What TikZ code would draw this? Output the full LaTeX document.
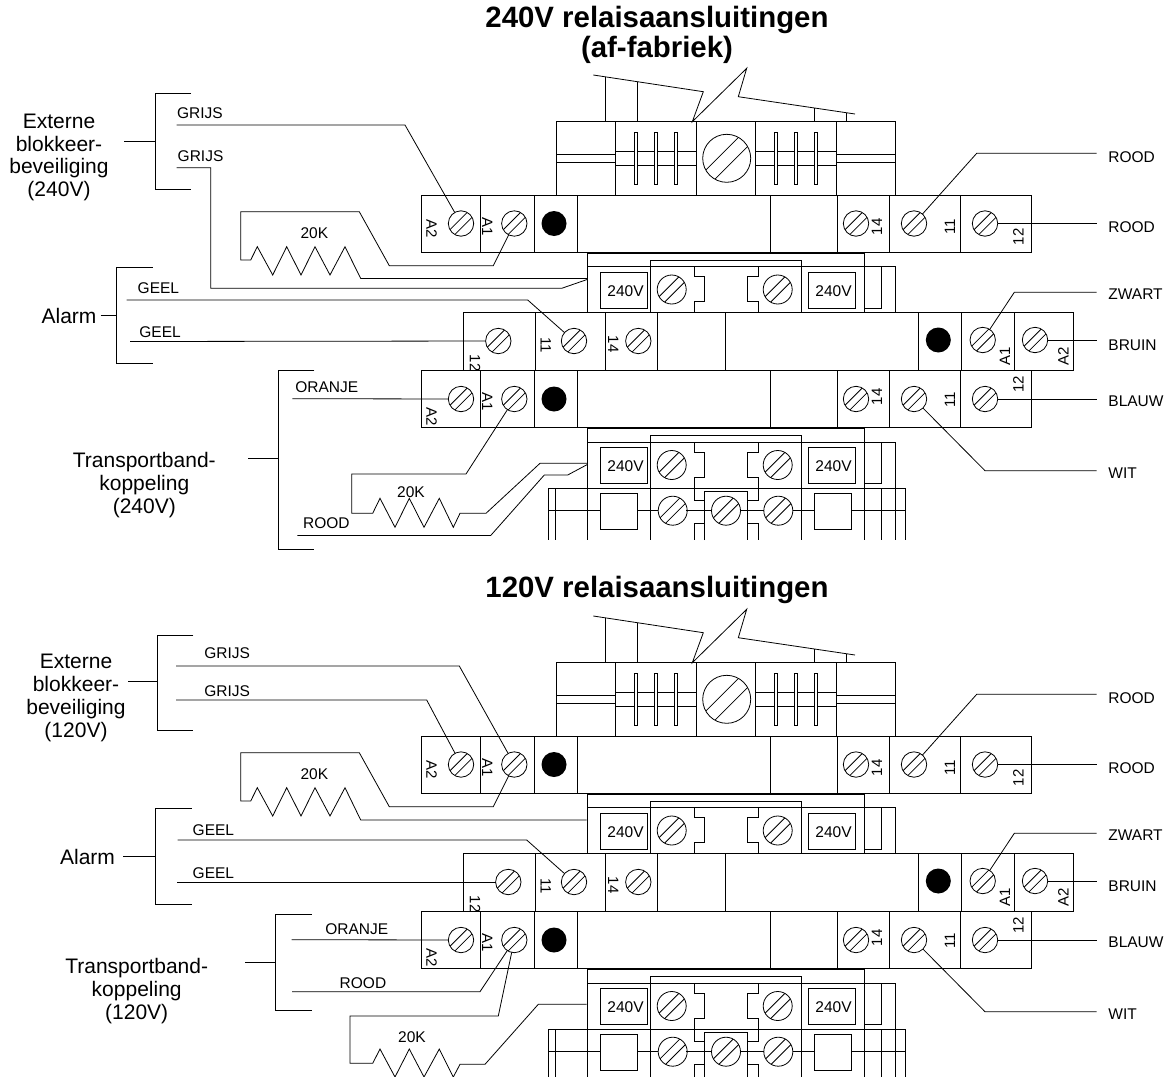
\documentclass[tikz,border=0pt]{standalone}
\usepackage{fontspec}
\setmainfont{Liberation Sans}
\newcommand\scrw[4]{%
  \coordinate (#1) at (#2,#3);
  \draw (#1) circle (#4pt);
  \begin{scope}
    \clip (#1) circle (#4pt);
    \draw ({#2-#4},{#3+#4+0.38*#4}) -- ({#2+#4},{#3-#4+0.38*#4})
          ({#2-#4},{#3+#4-0.38*#4}) -- ({#2+#4},{#3-#4-0.38*#4});
  \end{scope}}
\newcommand\modV[1]{%
  \draw (587.7,253.3) rectangle (864.3,312.7);
  \draw (587.7,266.7) -- (895.7,266.7) -- (895.7,312.7) -- (864.3,312.7);
  \draw (881.7,266.7) -- (881.7,308.3) -- (864.3,308.3);
  \draw (650.7,312.7) -- (650.7,260) -- (801.7,260) -- (801.7,312.7);
  \draw (694,266.7) -- (694,276.7) -- (704.3,276.7) -- (704.3,301.7) -- (694,301.7) -- (694,312.7);
  \draw (758.3,266.7) -- (758.3,276.7) -- (747.7,276.7) -- (747.7,301.7) -- (758.3,301.7) -- (758.3,312.7);
  \draw (600,272.3) rectangle (647.3,308.3) (808.3,272.3) rectangle (855.7,308.3);
  \node[vt] (#1l) at (625.5,290.8) {240V};
  \node[vt] (#1r) at (833.5,290.8) {240V};
  \scrw{#1sl}{671.7}{289.5}{14.5}
  \scrw{#1sr}{777.7}{289.5}{14.5}}
\newcommand\relayassembly[2]{%
  \draw (593.3,75) -- (703.3,91.7) -- (692.3,121.7) -- (746.7,68.3) -- (738.3,96.7) -- (855,114);
  \draw (605,76.8) -- (605,121.7) (637.7,81.7) -- (637.7,121.7)
        (814.3,107.9) -- (814.3,121.7) (846.7,112.7) -- (846.7,121.7);
  \draw (556.7,121.7) rectangle (895.7,195);
  \foreach \xx in {615,696.7,755,836.7} {\draw (\xx,121.7) -- (\xx,195);}
  \draw (556.7,154.3) -- (615,154.3) (556.7,162.7) -- (615,162.7)
        (836.7,154.3) -- (895.7,154.3) (836.7,162.7) -- (895.7,162.7)
        (615,151.7) -- (696.7,151.7) (615,165.3) -- (696.7,165.3)
        (755,151.7) -- (836.7,151.7) (755,165.3) -- (836.7,165.3);
  \foreach \xx in {636,656,676,775.7,795.7,816}
    {\draw[fill=white] (\xx-1.8,132.7) rectangle (\xx+1.8,184.3);}
  \scrw{#1big}{726.7}{158.3}{24}
  % row 1
  \draw (421.7,195) rectangle (1031.7,252.5);
  \foreach \xx in {480.7,534,577.7,770,837.5,889.5,960.7} {\draw (\xx,195) -- (\xx,252.5);}
  \scrw{#1aA2}{461}{223.5}{12.7}
  \scrw{#1aA1}{514.3}{223.5}{12.7}
  \fill (554,223.5) circle (12.5pt);
  \scrw{#1a14}{856}{223.5}{12.7}
  \scrw{#1a11}{914}{223.5}{12.7}
  \scrw{#1a12}{985}{223.5}{12.7}
  \node[tll] (#1aA2t) at (431.7,229) {A2};
  \node[tll] (#1aA1t) at (487.3,226.7) {A1};
  \node[tlr] (#1a14t) at (877,226.7) {14};
  \node[tlr] (#1a11t) at (950,226.7) {11};
  \node[tlr] (#1a12t) at (1018.3,236.7) {12};
  % module 2
  \modV{#1m}
  % row 2
  \draw (463.3,312.7) rectangle (1073.3,370);
  \foreach \xx in {535,605.7,657.3,725,918.3,961.7,1014.3} {\draw (\xx,312.7) -- (\xx,370);}
  \scrw{#1b12}{#2}{341}{12.7}
  \scrw{#1b11}{574}{341}{12.7}
  \scrw{#1b14}{638.3}{341}{12.7}
  \fill (938.3,340) circle (12.5pt);
  \scrw{#1bA1}{982.7}{340}{12.7}
  \scrw{#1bA2}{1035}{340}{12.7}
  \node[tll] (#1b12t) at (475,363) {12};
  \node[tll] (#1b11t) at (545.7,345) {11};
  \node[tll] (#1b14t) at (613.3,344) {14};
  \node[tlr] (#1bA1t) at (1005,356.7) {A1};
  \node[tlr] (#1bA2t) at (1063.3,356.7) {A2};
  % row 3
  \draw (421.7,370) rectangle (1031.7,427.7);
  \foreach \xx in {480.7,534,577.7,770,837.5,889.5,960.7} {\draw (\xx,370) -- (\xx,427.7);}
  \scrw{#1cA2}{461}{399}{12.7}
  \scrw{#1cA1}{514.3}{399}{12.7}
  \fill (554,399) circle (12.5pt);
  \scrw{#1c14}{856}{399}{12.7}
  \scrw{#1c11}{914}{399}{12.7}
  \scrw{#1c12}{985}{399}{12.7}
  \node[tll] (#1cA2t) at (431.7,416.7) {A2};
  \node[tll] (#1cA1t) at (487.3,401.7) {A1};
  \node[tlr] (#1c14t) at (877,396.7) {14};
  \node[tlr] (#1c11t) at (950,400) {11};
  \node[tlr] (#1c12t) at (1018.3,384) {12};
  % module 4
  \begin{scope}[shift={(0,175.5)}]\modV{#1n}\end{scope}
  % socket row
  \draw (548.3,488.3) -- (905,488.3);
  \foreach \xx in {548.3,555,587.7,650.7,801.7,864.3,881.7,895.7,905} {\draw (\xx,488.3) -- (\xx,540);}
  \draw (548.3,510.7) -- (600,510.7) (637.7,510.7) -- (658.2,510.7)
        (686.2,510.7) -- (711.5,510.7) (740.5,510.7) -- (763.8,510.7)
        (792.8,510.7) -- (814.3,510.7) (851.7,510.7) -- (905,510.7);
  \draw (600,493.3) rectangle (637.7,529) (814.3,493.3) rectangle (851.7,529);
  \draw (694,488.3) -- (694,500) -- (704.3,500)
        (704.3,540) -- (704.3,491.7) -- (747.7,491.7) -- (747.7,540)
        (704.3,523.3) -- (694,523.3) -- (694,540)
        (758.3,488.3) -- (758.3,500) -- (747.7,500)
        (747.7,523.3) -- (758.3,523.3) -- (758.3,540);
  \scrw{#1s1}{672.7}{510.7}{14.5}
  \scrw{#1s2}{726}{510.7}{14.5}
  \scrw{#1s3}{778.3}{510.7}{14.5}
  % right wires
  \draw[shorten <=12.7pt] (#1a11) -- (976.7,153.3) -- (1096.7,153.3);
  \draw[shorten <=12.7pt] (#1a12) -- (1096.7,223.5);
  \draw[shorten <=12.7pt] (#1bA1) -- (1014.3,292.3) -- (1096.7,292.3);
  \draw[shorten <=12.7pt] (#1bA2) -- (1096.7,340);
  \draw[shorten <=12.7pt] (#1c12) -- (1096.7,399);
  \draw[shorten <=12.7pt] (#1c11) -- (985,470.7) -- (1096.7,470.7);
  \node[wl] (#1w1) at (1108,156.7) {ROOD};
  \node[wl] (#1w2) at (1108,226.7) {ROOD};
  \node[wl] (#1w3) at (1108,294) {ZWART};
  \node[wl] (#1w4) at (1108,345) {BRUIN};
  \node[wl] (#1w5) at (1108,401.7) {BLAUW};
  \node[wl] (#1w6) at (1108,473.3) {WIT};
}
\begin{document}
\begin{tikzpicture}[x=1pt,y=-1pt,line width=0.8pt,
  font=\fontsize{15.5}{17}\selectfont,
  wl/.style={inner sep=0pt,anchor=west},
  vt/.style={inner sep=0pt},
  tl/.style={font=\fontsize{15}{15}\selectfont,inner sep=0pt},
  tll/.style={tl,rotate=-90},
  tlr/.style={tl,rotate=90},
  grp/.style={font=\fontsize{21}{22.8}\selectfont,align=center,inner sep=0pt},
  ttl/.style={font=\fontsize{29.4}{30}\selectfont\bfseries,inner sep=0pt}]
\useasboundingbox (0,0) rectangle (1169,1076);
\clip (0,0) rectangle (1169,1076);
% titles
\node[ttl] (t1) at (657,20) {240V relaisaansluitingen};
\node[ttl] (t2) at (657,50) {(af-fabriek)};
\node[ttl] (t3) at (657,590) {120V relaisaansluitingen};
% relay assemblies
\relayassembly{T}{498.3}
\begin{scope}[shift={(0,541)}]\relayassembly{B}{508.3}\end{scope}
% ---------- top left wiring (240V)
\node[grp] (ext1) at (59,157.5) {Externe\\blokkeer-\\beveiliging\\(240V)};
\draw (191,93.3) -- (155,93.3) -- (155,189.3) -- (191,189.3) (124.3,141) -- (155,141);
\node[wl] (g1) at (176.7,112.7) {GRIJS};
\draw[shorten >=12.7pt] (176.7,125) -- (405,125) -- (TaA2);
\node[wl] (g2) at (177.3,156) {GRIJS};
\draw (176.7,167.7) -- (210.7,167.7) -- (210.7,288.3) -- (561.7,288.3) -- (587.7,279.3);
\draw[shorten >=12.7pt] (587.7,278.5) -- (360.7,278.5) -- (345,246.7) -- (330,275) -- (315,246.7) -- (301,275) -- (286.7,246.7) -- (272.7,275) -- (257.3,246.7) -- (250.7,260) -- (240.7,260) -- (240.7,211.7) -- (359.3,211.7) -- (389.3,265.7) -- (493.3,265.7) -- (TaA1);
\node (r1) at (314.3,232.7) {20K};
\node[grp] (al1) at (69,315.7) {Alarm};
\draw (152.7,267.3) -- (116.7,267.3) -- (116.7,363.3) -- (152.7,363.3) (100.7,315.7) -- (116.7,315.7);
\node[wl] (ge1) at (137.3,287.7) {GEEL};
\draw[shorten >=12.7pt] (126.7,300) -- (527.7,300) -- (Tb11);
\node[wl] (ge2) at (139,332.3) {GEEL};
\draw[shorten >=12.7pt] (130,341.5) -- (Tb12);
\node[grp] (tr1) at (144.3,485.3) {Transportband-\\koppeling\\(240V)};
\draw (314.3,370.7) -- (278.3,370.7) -- (278.3,549) -- (314.3,549) (248.3,458.3) -- (278.3,458.3);
\node[wl] (or1) at (295,386.7) {ORANJE};
\draw[shorten >=12.7pt] (292.3,398.7) -- (TcA2);
\node[wl] (ro1) at (302.7,523.5) {ROOD};
\draw (297.3,535.5) -- (490.7,535.5) -- (544.3,475) -- (567.7,475) -- (587.7,464.3);
\draw[shorten <=12.7pt] (TcA1) -- (466,474) -- (351.7,474) -- (351.7,513.3) -- (372.7,513.3) -- (380,498.3) -- (395,527.3) -- (409.3,498.3) -- (424,527.3) -- (439.3,498.3) -- (453.3,527.3) -- (460,513.3) -- (486,513.3) -- (540,463.3) -- (587.7,463.3);
\node (r2) at (411,491.7) {20K};
% ---------- bottom left wiring (120V)
\node[grp] (ext2) at (76,698) {Externe\\blokkeer-\\beveiliging\\(120V)};
\draw (193.3,635) -- (157.7,635) -- (157.7,730) -- (193.3,730) (128.3,681.7) -- (157.7,681.7);
\node[wl] (g3) at (204,652.7) {GRIJS};
\draw[shorten >=12.7pt] (176,666) -- (459.3,666) -- (BaA1);
\node[wl] (g4) at (204,690.7) {GRIJS};
\draw[shorten >=12.7pt] (176,700) -- (426.7,700) -- (BaA2);
\draw[shorten >=12.7pt] (586.7,820) -- (360.7,820) -- (345,787.7) -- (330,816) -- (315,787.7) -- (301,816) -- (286.7,787.7) -- (272.7,816) -- (257.3,787.7) -- (250.7,801) -- (240.7,801) -- (240.7,752.7) -- (359.3,752.7) -- (389.3,806.7) -- (493.3,806.7) -- (BaA1);
\node (r3) at (314.3,773.7) {20K};
\node[grp] (al2) at (87.5,856.7) {Alarm};
\draw (191.7,808.3) -- (155,808.3) -- (155,904) -- (191.7,904) (123.3,856.7) -- (155,856.7);
\node[wl] (ge3) at (192.3,830) {GEEL};
\draw[shorten >=12.7pt] (177.7,840) -- (526.7,840) -- (Bb11);
\node[wl] (ge4) at (192.3,873.3) {GEEL};
\draw[shorten >=12.7pt] (177.3,882) -- (Bb12);
\node[grp] (tr2) at (136.7,991.3) {Transportband-\\koppeling\\(120V)};
\draw (311.7,914) -- (275.7,914) -- (275.7,1010) -- (311.7,1010) (245,962.3) -- (275.7,962.3);
\node[wl] (or2) at (325,929) {ORANJE};
\draw[shorten >=12.7pt] (291.7,939.7) -- (BcA2);
\node[wl] (ro2) at (339.3,983) {ROOD};
\draw[shorten >=12.7pt] (292,991.7) -- (480,991.7) -- (BcA1);
\draw[shorten <=12.7pt] (BcA1) -- (498.3,1016) -- (350,1016) -- (350,1063.3) -- (372.7,1063.3) -- (380,1049) -- (395,1077) -- (409.3,1049) -- (424,1077) -- (439.3,1049) -- (453.3,1077) -- (460,1064.3) -- (485,1064.3) -- (538.3,1004.3) -- (586.7,1004.3);
\node (r4) at (412,1036.7) {20K};
\end{tikzpicture}
\end{document}
